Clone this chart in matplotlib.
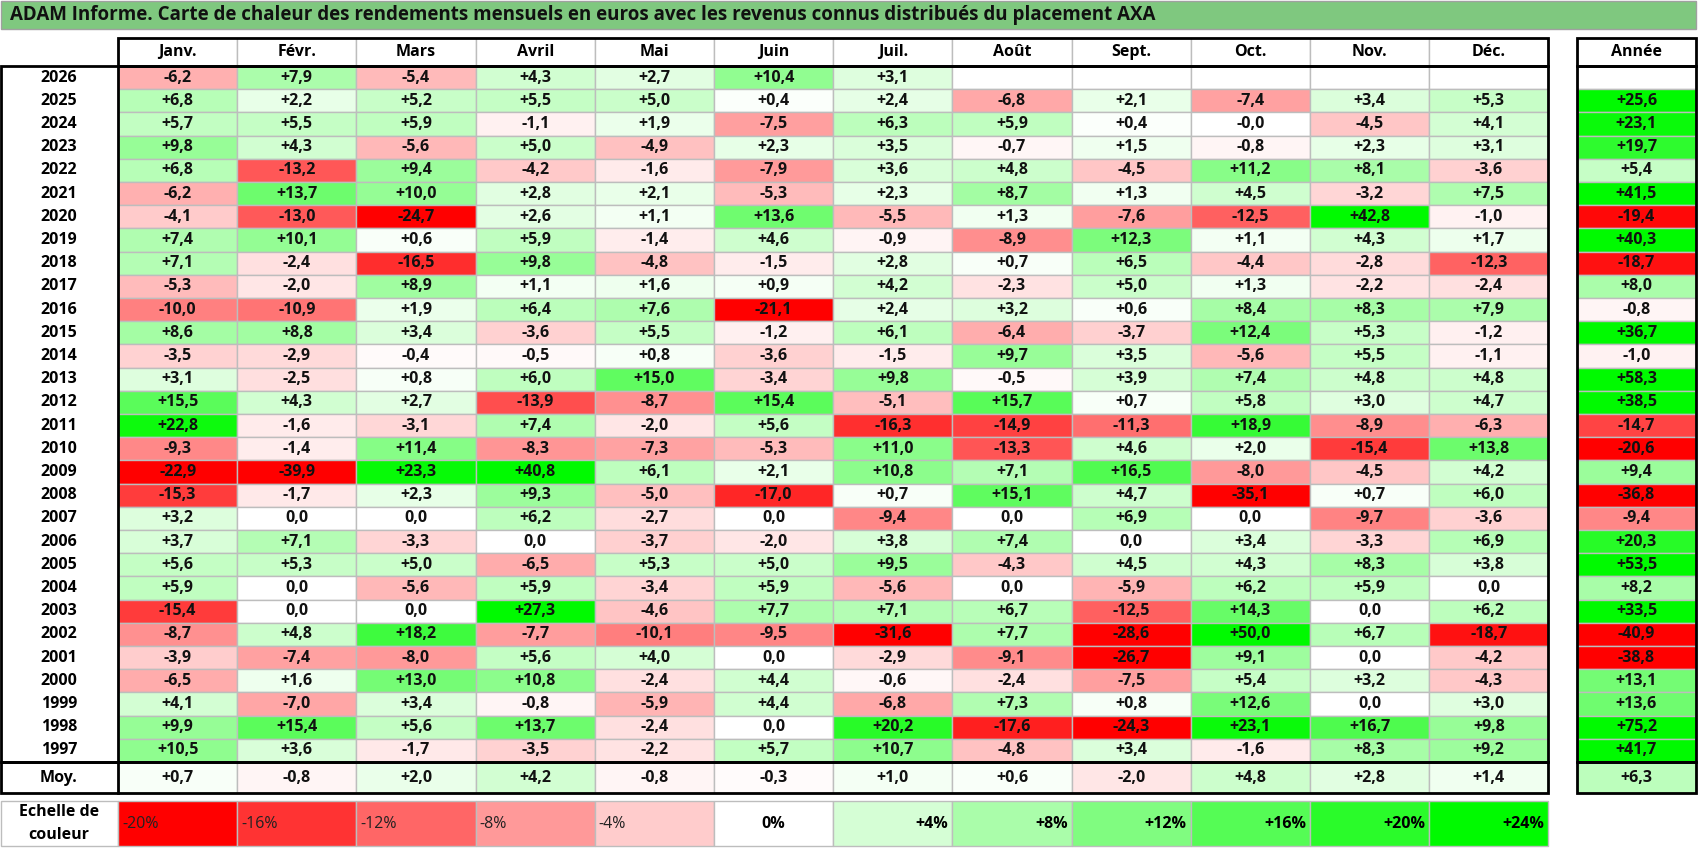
import math
import matplotlib
matplotlib.use('Agg')
import matplotlib.pyplot as plt
from matplotlib.patches import Rectangle

title = "ADAM Informe. Carte de chaleur des rendements mensuels en euros avec les revenus connus distribués du placement AXA"
months = ["Janv.", "Févr.", "Mars", "Avril", "Mai", "Juin", "Juil.", "Août", "Sept.", "Oct.", "Nov.", "Déc."]
years = list(range(2026, 1996, -1))
N = None
monthly = [
    [-6.2, 7.9, -5.4, 4.3, 2.7, 10.4, 3.1, N, N, N, N, N],
    [6.8, 2.2, 5.2, 5.5, 5.0, 0.4, 2.4, -6.8, 2.1, -7.4, 3.4, 5.3],
    [5.7, 5.5, 5.9, -1.1, 1.9, -7.5, 6.3, 5.9, 0.4, -0.0, -4.5, 4.1],
    [9.8, 4.3, -5.6, 5.0, -4.9, 2.3, 3.5, -0.7, 1.5, -0.8, 2.3, 3.1],
    [6.8, -13.2, 9.4, -4.2, -1.6, -7.9, 3.6, 4.8, -4.5, 11.2, 8.1, -3.6],
    [-6.2, 13.7, 10.0, 2.8, 2.1, -5.3, 2.3, 8.7, 1.3, 4.5, -3.2, 7.5],
    [-4.1, -13.0, -24.7, 2.6, 1.1, 13.6, -5.5, 1.3, -7.6, -12.5, 42.8, -1.0],
    [7.4, 10.1, 0.6, 5.9, -1.4, 4.6, -0.9, -8.9, 12.3, 1.1, 4.3, 1.7],
    [7.1, -2.4, -16.5, 9.8, -4.8, -1.5, 2.8, 0.7, 6.5, -4.4, -2.8, -12.3],
    [-5.3, -2.0, 8.9, 1.1, 1.6, 0.9, 4.2, -2.3, 5.0, 1.3, -2.2, -2.4],
    [-10.0, -10.9, 1.9, 6.4, 7.6, -21.1, 2.4, 3.2, 0.6, 8.4, 8.3, 7.9],
    [8.6, 8.8, 3.4, -3.6, 5.5, -1.2, 6.1, -6.4, -3.7, 12.4, 5.3, -1.2],
    [-3.5, -2.9, -0.4, -0.5, 0.8, -3.6, -1.5, 9.7, 3.5, -5.6, 5.5, -1.1],
    [3.1, -2.5, 0.8, 6.0, 15.0, -3.4, 9.8, -0.5, 3.9, 7.4, 4.8, 4.8],
    [15.5, 4.3, 2.7, -13.9, -8.7, 15.4, -5.1, 15.7, 0.7, 5.8, 3.0, 4.7],
    [22.8, -1.6, -3.1, 7.4, -2.0, 5.6, -16.3, -14.9, -11.3, 18.9, -8.9, -6.3],
    [-9.3, -1.4, 11.4, -8.3, -7.3, -5.3, 11.0, -13.3, 4.6, 2.0, -15.4, 13.8],
    [-22.9, -39.9, 23.3, 40.8, 6.1, 2.1, 10.8, 7.1, 16.5, -8.0, -4.5, 4.2],
    [-15.3, -1.7, 2.3, 9.3, -5.0, -17.0, 0.7, 15.1, 4.7, -35.1, 0.7, 6.0],
    [3.2, 0.0, 0.0, 6.2, -2.7, 0.0, -9.4, 0.0, 6.9, 0.0, -9.7, -3.6],
    [3.7, 7.1, -3.3, 0.0, -3.7, -2.0, 3.8, 7.4, 0.0, 3.4, -3.3, 6.9],
    [5.6, 5.3, 5.0, -6.5, 5.3, 5.0, 9.5, -4.3, 4.5, 4.3, 8.3, 3.8],
    [5.9, 0.0, -5.6, 5.9, -3.4, 5.9, -5.6, 0.0, -5.9, 6.2, 5.9, 0.0],
    [-15.4, 0.0, 0.0, 27.3, -4.6, 7.7, 7.1, 6.7, -12.5, 14.3, 0.0, 6.2],
    [-8.7, 4.8, 18.2, -7.7, -10.1, -9.5, -31.6, 7.7, -28.6, 50.0, 6.7, -18.7],
    [-3.9, -7.4, -8.0, 5.6, 4.0, 0.0, -2.9, -9.1, -26.7, 9.1, 0.0, -4.2],
    [-6.5, 1.6, 13.0, 10.8, -2.4, 4.4, -0.6, -2.4, -7.5, 5.4, 3.2, -4.3],
    [4.1, -7.0, 3.4, -0.8, -5.9, 4.4, -6.8, 7.3, 0.8, 12.6, 0.0, 3.0],
    [9.9, 15.4, 5.6, 13.7, -2.4, 0.0, 20.2, -17.6, -24.3, 23.1, 16.7, 9.8],
    [10.5, 3.6, -1.7, -3.5, -2.2, 5.7, 10.7, -4.8, 3.4, -1.6, 8.3, 9.2],
]
annual = [N, 25.6, 23.1, 19.7, 5.4, 41.5, -19.4, 40.3, -18.7, 8.0, -0.8, 36.7, -1.0, 58.3,
          38.5, -14.7, -20.6, 9.4, -36.8, -9.4, 20.3, 53.5, 8.2, 33.5, -40.9, -38.8, 13.1,
          13.6, 75.2, 41.7]
average = [0.7, -0.8, 2.0, 4.2, -0.8, -0.3, 1.0, 0.6, -2.0, 4.8, 2.8, 1.4]
average_year = 6.3
scale_values = [-20, -16, -12, -8, -4, 0, 4, 8, 12, 16, 20, 24]


def heat_color(v):
    if v is None:
        return 'white'
    if v < 0:
        t = min(-v / 20.0, 1.0)
        return (1.0, 1 - t, 1 - t)
    t = min(v / 24.0, 1.0)
    return (1 - t, 1 - 0.02 * t, 1 - t)


def fmt(v):
    if v is None:
        return ""
    s = "{:.1f}".format(abs(v)).replace('.', ',')
    if v > 0:
        return "+" + s
    if math.copysign(1, v) < 0:
        return "-" + s
    return s


plt.rcParams['font.family'] = ['Open Sans', 'DejaVu Sans']
W, H = 1698, 848
fig = plt.figure(figsize=(W / 100, H / 100), dpi=100)
ax = fig.add_axes([0, 0, 1, 1])
ax.set_xlim(0, W)
ax.set_ylim(H, 0)
ax.axis('off')

grid = '#bdbdbd'
fs = 11.5

# title bar
ax.add_patch(Rectangle((1, 1), W - 3, 28, facecolor='#7fc87f', edgecolor='#a0a0a0', lw=1))
ax.text(10, 15, title, fontsize=13.5, fontweight='bold', va='center', ha='left', color='#111')

x0, cw = 118, 119.2
xa0, xa1 = 1577, 1696
hy0, hy1 = 38, 66
rh = 23.2
by0 = hy1
by1 = by0 + rh * len(years)
my1 = by1 + 31


def cell(x, y, w, h, v, text=None):
    ax.add_patch(Rectangle((x, y), w, h, facecolor=heat_color(v), edgecolor=grid, lw=1))
    ax.text(x + w / 2, y + h / 2, fmt(v) if text is None else text, fontsize=fs,
            fontweight='bold', ha='center', va='center', color='#111')


# header
for j, m in enumerate(months):
    ax.add_patch(Rectangle((x0 + j * cw, hy0), cw, hy1 - hy0, facecolor='white', edgecolor=grid, lw=1))
    ax.text(x0 + j * cw + cw / 2, (hy0 + hy1) / 2, m, fontsize=fs, fontweight='bold', ha='center', va='center')
ax.text((xa0 + xa1) / 2, (hy0 + hy1) / 2, "Année", fontsize=fs, fontweight='bold', ha='center', va='center')

# body
for i, yr in enumerate(years):
    y = by0 + i * rh
    ax.text(59, y + rh / 2, str(yr), fontsize=fs, fontweight='bold', ha='center', va='center')
    for j, v in enumerate(monthly[i]):
        cell(x0 + j * cw, y, cw, rh, v)
    cell(xa0, y, xa1 - xa0, rh, annual[i])

ax.text(59, (by1 + my1) / 2, "Moy.", fontsize=fs, fontweight='bold', ha='center', va='center')
for j, v in enumerate(average):
    cell(x0 + j * cw, by1, cw, my1 - by1, v)
cell(xa0, by1, xa1 - xa0, my1 - by1, average_year)

# black frames
xr = x0 + 12 * cw
k = dict(facecolor='none', edgecolor='black', lw=2, zorder=5)
ax.add_patch(Rectangle((x0, hy0), xr - x0, hy1 - hy0, **k))
ax.add_patch(Rectangle((1, hy1), xr - 1, by1 - hy1, **k))
ax.add_patch(Rectangle((1, by1), xr - 1, my1 - by1, **k))
ax.plot([x0, x0], [hy1, my1], color='black', lw=2, zorder=5)
ax.add_patch(Rectangle((xa0, hy0), xa1 - xa0, hy1 - hy0, **k))
ax.add_patch(Rectangle((xa0, hy1), xa1 - xa0, by1 - hy1, **k))
ax.add_patch(Rectangle((xa0, by1), xa1 - xa0, my1 - by1, **k))

# colour scale
ly0, ly1 = my1 + 8, H - 2
ax.add_patch(Rectangle((1, ly0), x0 - 1, ly1 - ly0, facecolor='white', edgecolor=grid, lw=1))
ax.text(59, (ly0 + ly1) / 2, "Echelle de\ncouleur", fontsize=fs, fontweight='bold',
        ha='center', va='center', linespacing=1.6)
for j, v in enumerate(scale_values):
    x = x0 + j * cw
    ax.add_patch(Rectangle((x, ly0), cw, ly1 - ly0, facecolor=heat_color(v), edgecolor=grid, lw=1))
    lab = ("+%d%%" % v) if v > 0 else ("%d%%" % v)
    if v < 0:
        ax.text(x + 4, (ly0 + ly1) / 2, lab, fontsize=fs, ha='left', va='center', color='#222')
    elif v == 0:
        ax.text(x + cw / 2, (ly0 + ly1) / 2, lab, fontsize=fs, fontweight='bold', ha='center', va='center')
    else:
        ax.text(x + cw - 4, (ly0 + ly1) / 2, lab, fontsize=fs, fontweight='bold', ha='right', va='center')

fig.savefig('out.png', dpi=100)
